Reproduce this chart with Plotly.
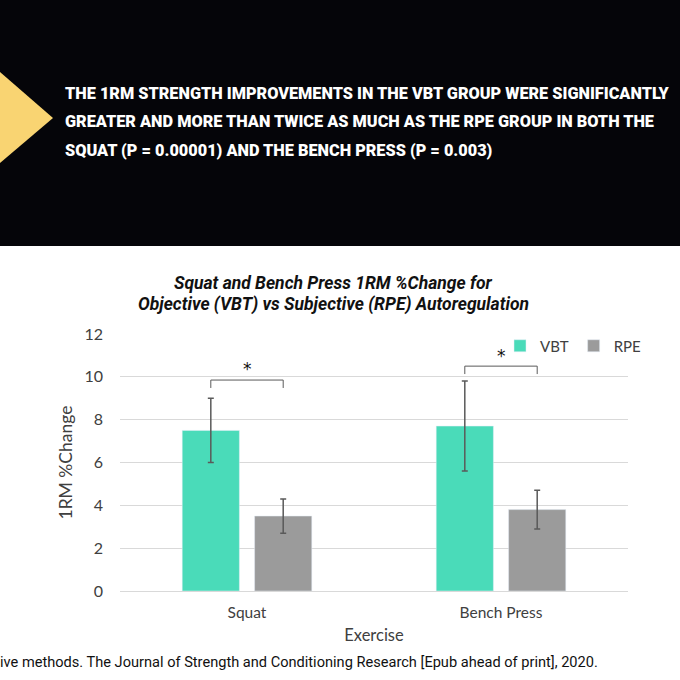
import plotly.graph_objects as go

# ---- data ----
exercises = ["Squat", "Bench Press"]
vbt_mean = [7.5, 7.7]
vbt_err = [1.5, 2.1]
rpe_mean = [3.5, 3.8]
rpe_err = [0.8, 0.9]
bracket_top = [9.85, 10.5]
bracket_drop = [0.37, 0.37]
star_y = [10.35, 10.95]
y_ticks = [0, 2, 4, 6, 8, 10, 12]

headline = [
    "THE 1RM STRENGTH IMPROVEMENTS IN THE VBT GROUP WERE SIGNIFICANTLY",
    "GREATER AND MORE THAN TWICE AS MUCH AS THE RPE GROUP IN BOTH THE",
    "SQUAT (P = 0.00001) AND THE BENCH PRESS (P = 0.003)",
]
chart_title = ["Squat and Bench Press 1RM %Change for",
               "Objective (VBT) vs Subjective (RPE) Autoregulation"]
footer = "ive methods. The Journal of Strength and Conditioning Research [Epub ahead of print], 2020."

# ---- layout geometry (pixels) ----
W = H = 680
L, R, T, B = 120, 628, 334, 591
def px(xp):
    return (xp - L) / (R - L)
def py(yp):
    return (B - yp) / (B - T)

BARGAP = 0.43
BARGROUPGAP = 0.21
off = (1 - BARGAP) / 4

TEAL = "#4ADBB9"
GREY = "#9B9B9B"
ERRC = "#5A5A5A"
TXT = "#404040"
CHART_FONT = "Lato, Open Sans, sans-serif"

fig = go.Figure()
fig.add_bar(name="VBT", x=exercises, y=vbt_mean, marker_color=TEAL,
            error_y=dict(type="data", array=vbt_err, color=ERRC, thickness=1.5, width=3))
fig.add_bar(name="RPE", x=exercises, y=rpe_mean, marker_color=GREY,
            error_y=dict(type="data", array=rpe_err, color=ERRC, thickness=1.5, width=3))

shapes = []
annotations = []

# top banner
shapes.append(dict(type="rect", xref="paper", yref="paper",
                   x0=px(0), x1=px(W), y0=py(246), y1=py(0),
                   fillcolor="#050509", line_width=0, layer="above"))
shapes.append(dict(type="path", xref="paper", yref="paper",
                   path=f"M {px(0)} {py(72)} L {px(53)} {py(118)} L {px(0)} {py(163)} Z",
                   fillcolor="#F9D472", line_width=0, layer="above"))
for i, line in enumerate(headline):
    annotations.append(dict(text=line, xref="paper", yref="paper",
                            x=px(63), y=py(93 + 28.5 * i), xanchor="left", yanchor="middle",
                            showarrow=False,
                            font=dict(family="Roboto, sans-serif",
                                      size=16.3, color="white", weight=900)))

# chart title
for i, line in enumerate(chart_title):
    annotations.append(dict(text=line, xref="paper", yref="paper",
                            x=px(333), y=py(283 + 21 * i), xanchor="center", yanchor="middle",
                            showarrow=False,
                            font=dict(family="Roboto, sans-serif", size=17.5, color="#111111",
                                      weight="bold", style="italic")))

# significance brackets
for i in range(len(exercises)):
    x0 = i - off
    x1 = i + off
    top = bracket_top[i]
    bot = top - bracket_drop[i]
    shapes.append(dict(type="path", xref="x", yref="y",
                       path=f"M {x0} {bot} L {x0} {top} L {x1} {top} L {x1} {bot}",
                       line=dict(color=ERRC, width=1)))
    annotations.append(dict(text="*", x=i, y=star_y[i], xref="x", yref="y",
                            showarrow=False, yanchor="middle",
                            font=dict(family="DejaVu Sans, sans-serif", size=17, color="#111111")))

# footer
annotations.append(dict(text=footer, xref="paper", yref="paper", x=px(-2), y=py(662),
                        xanchor="left", yanchor="middle", showarrow=False,
                        font=dict(family="Roboto, sans-serif", size=14.6, color="#111111")))

fig.update_layout(
    width=W, height=H,
    margin=dict(l=L, r=W - R, t=T, b=H - B),
    paper_bgcolor="white", plot_bgcolor="white",
    barmode="group", bargap=BARGAP, bargroupgap=BARGROUPGAP,
    shapes=shapes, annotations=annotations,
    font=dict(family=CHART_FONT, color=TXT),
    showlegend=True,
    legend=dict(orientation="h", x=px(646), xanchor="right", y=py(346), yanchor="middle",
                font=dict(size=15, color=TXT), itemwidth=30,
                bgcolor="rgba(0,0,0,0)"),
    xaxis=dict(showline=False, ticks="", tickfont=dict(size=15.5, color=TXT),
               ticklabelstandoff=10,
               title=dict(text="Exercise", font=dict(size=16.5, color=TXT), standoff=9),
               range=[-0.5, 1.5]),
    yaxis=dict(range=[0, 12], tickvals=y_ticks, showgrid=True, gridcolor="#D9D9D9",
               gridwidth=1.2, zeroline=True, zerolinecolor="#D9D9D9", zerolinewidth=1.2,
               showline=False, ticks="", ticklabelstandoff=16,
               tickfont=dict(size=16, color=TXT),
               title=dict(text="1RM %Change", font=dict(size=17.5, color=TXT), standoff=7)),
)

fig.write_html("out.html")
